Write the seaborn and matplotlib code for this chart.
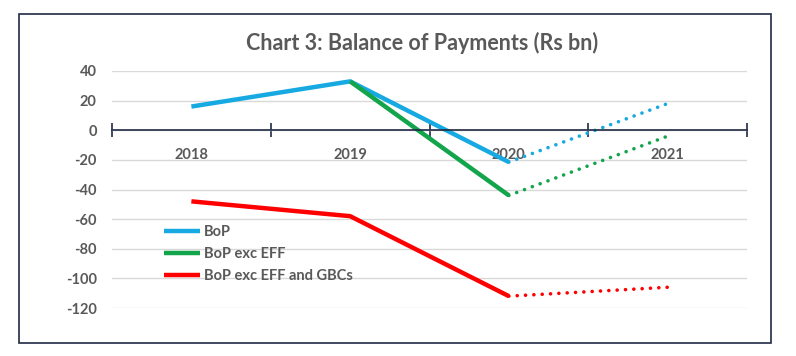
import pandas as pd
import matplotlib.pyplot as plt
import seaborn as sns
from matplotlib.patches import Rectangle

# ── Data ────────────────────────────────────────────────────────────────────
years = ["2018", "2019", "2020", "2021"]
bop = [16, 33, -21.5, 18]
bop_exc_eff = [None, 33, -44, -4]
bop_exc_eff_gbc = [-48, -58, -112, -106]
series_names = ["BoP", "BoP exc EFF", "BoP exc EFF and GBCs"]
colors = ["#17A9E1", "#13A54B", "#FF0000"]
y_ticks = [40, 20, 0, -20, -40, -60, -80, -100, -120]
# ────────────────────────────────────────────────────────────────────────────

rows = []
for name, vals in zip(series_names, [bop, bop_exc_eff, bop_exc_eff_gbc]):
    for i, v in enumerate(vals):
        if v is not None:
            rows.append({"series": name, "x": i, "year": years[i], "value": v})
df = pd.DataFrame(rows)
actual = df[df["x"] <= 2]
forecast = df[df["x"] >= 2]

sns.set_theme(style="white")
plt.rcParams["font.family"] = ["Lato", "DejaVu Sans"]
plt.rcParams["axes.unicode_minus"] = False
grey = "#595959"
navy = "#1F2A44"
palette = dict(zip(series_names, colors))

fig = plt.figure(figsize=(7.96, 3.56), dpi=100)
ax = fig.add_axes([112 / 796, 1 - 308 / 356, 635 / 796, 237 / 356])

# outer chart border
fig.patches.append(Rectangle((19 / 796, 1 - 343 / 356), 752 / 796, 329 / 356,
                             transform=fig.transFigure, fill=False,
                             edgecolor=navy, linewidth=1.2))

sns.lineplot(data=actual, x="x", y="value", hue="series", palette=palette,
             hue_order=series_names, linewidth=3.2, ax=ax,
             solid_capstyle="butt")
sns.lineplot(data=forecast, x="x", y="value", hue="series", palette=palette,
             hue_order=series_names, linewidth=2.6, ax=ax, legend=False,
             linestyle=(0, (0.01, 2.3)), dash_capstyle="round")

ax.set_xlim(-0.5, 3.5)
ax.set_ylim(-120, 40)
ax.set_yticks(y_ticks)
ax.yaxis.grid(True, color="#D9D9D9", linewidth=1)
ax.set_axisbelow(True)
for s in ["top", "right", "left"]:
    ax.spines[s].set_visible(False)
ax.spines["bottom"].set_position(("data", 0))
ax.spines["bottom"].set_color(navy)
ax.spines["bottom"].set_linewidth(1.2)

ax.set_xticks([-0.5, 0.5, 1.5, 2.5, 3.5])
ax.set_xticklabels([])
ax.tick_params(axis="x", which="major", bottom=True, direction="inout",
               length=10, width=1.2, color=navy)
ax.set_xticks(range(len(years)), minor=True)
ax.set_xticklabels(years, minor=True)
ax.tick_params(axis="x", which="minor", bottom=True, length=0, pad=13,
               labelsize=10.5, labelcolor=grey)
for lab in ax.get_xticklabels(minor=True):
    lab.set_fontweight("bold")

ax.tick_params(axis="y", length=0, labelsize=10.5, labelcolor=grey, pad=11)
for lab in ax.get_yticklabels():
    lab.set_fontweight("bold")
ax.set_xlabel("")
ax.set_ylabel("")

leg = ax.legend(loc="upper left", bbox_to_anchor=(0.072, 0.375), frameon=False,
                handlelength=2.5, handletextpad=0.25, labelspacing=0.55,
                borderaxespad=0, prop={"weight": "bold", "size": 10.5})
for t in leg.get_texts():
    t.set_color(grey)

fig.text(422 / 796, 1 - 43 / 356, "Chart 3: Balance of Payments (Rs bn)",
         ha="center", va="center", fontsize=15.5, fontweight="bold", color=grey)

fig.savefig("out.png", dpi=100)
